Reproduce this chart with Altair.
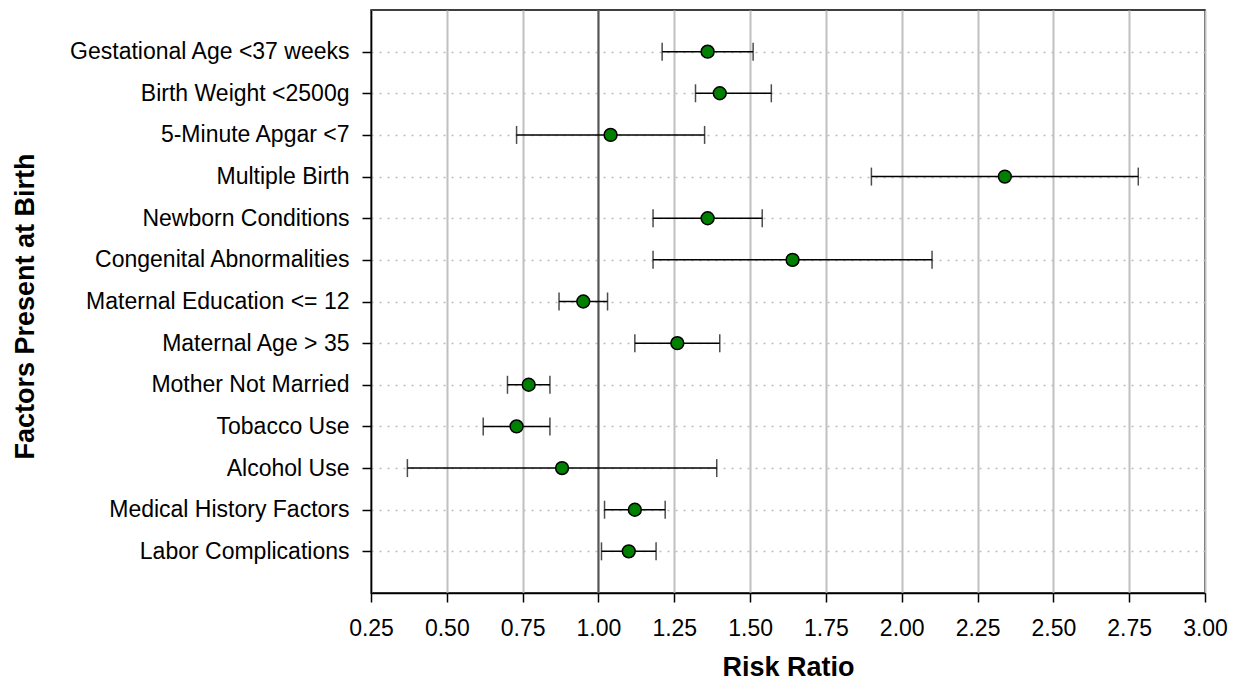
import altair as alt
import pandas as pd

factors = [
    "Gestational Age <37 weeks",
    "Birth Weight <2500g",
    "5-Minute Apgar <7",
    "Multiple Birth",
    "Newborn Conditions",
    "Congenital Abnormalities",
    "Maternal Education <= 12",
    "Maternal Age > 35",
    "Mother Not Married",
    "Tobacco Use",
    "Alcohol Use",
    "Medical History Factors",
    "Labor Complications",
]
risk_ratio = [1.36, 1.40, 1.04, 2.34, 1.36, 1.64, 0.95, 1.26, 0.77, 0.73, 0.88, 1.12, 1.10]
ci_low = [1.21, 1.32, 0.73, 1.90, 1.18, 1.18, 0.87, 1.12, 0.70, 0.62, 0.37, 1.02, 1.01]
ci_high = [1.51, 1.57, 1.35, 2.78, 1.54, 2.10, 1.03, 1.40, 0.84, 0.84, 1.39, 1.22, 1.19]
x_ticks = [0.25, 0.5, 0.75, 1.0, 1.25, 1.5, 1.75, 2.0, 2.25, 2.5, 2.75, 3.0]
ref_line = [1.0]

df = pd.DataFrame({"factor": factors, "rr": risk_ratio, "lo": ci_low, "hi": ci_high})
ref = pd.DataFrame({"x": ref_line})

FONT = "Liberation Sans"

xscale = alt.Scale(domain=[0.25, 3.0], nice=False, zero=False)
yscale = alt.Scale(type="point", domain=factors, padding=1)

xaxis = alt.Axis(
    values=x_ticks, format=".2f", title="Risk Ratio",
    grid=True, gridColor="#c0c0c0", gridWidth=2,
    domainColor="black", domainWidth=1.5, tickColor="black", tickWidth=1.5, tickSize=9,
    labelFont=FONT, labelFontSize=23, labelColor="black", labelPadding=15,
    labelFlush=False, labelOverlap=False,
    titleFont=FONT, titleFontSize=27, titleFontWeight="bold", titleColor="black",
    titleX=417, titleY=88, titleAlign="center", titleBaseline="bottom",
)
yaxis = alt.Axis(
    title="Factors Present at Birth",
    grid=True, gridColor="#bdbdbd", gridDash=[2, 6], gridWidth=1.5,
    domainColor="black", domainWidth=1.5, tickColor="black", tickWidth=1.5, tickSize=9,
    labelFont=FONT, labelFontSize=23, labelColor="black", labelPadding=13, labelLimit=0,
    titleFont=FONT, titleFontSize=27, titleFontWeight="bold", titleColor="black",
    titleX=-338, titleY=296, titleAngle=270, titleAlign="center", titleBaseline="alphabetic",
)

base = alt.Chart(df)

refrule = alt.Chart(ref).mark_rule(color="#555555", strokeWidth=2).encode(
    x=alt.X("x:Q", scale=xscale, axis=xaxis)
)

bars = base.mark_rule(color="black", strokeWidth=1.5).encode(
    x=alt.X("lo:Q", scale=xscale, axis=xaxis),
    x2="hi:Q",
    y=alt.Y("factor:N", scale=yscale, axis=yaxis, sort=factors),
)
cap_lo = base.mark_tick(color="black", thickness=1.5, size=18, orient="vertical").encode(
    x=alt.X("lo:Q", scale=xscale),
    y=alt.Y("factor:N", scale=yscale, sort=factors),
)
cap_hi = base.mark_tick(color="black", thickness=1.5, size=18, orient="vertical").encode(
    x=alt.X("hi:Q", scale=xscale),
    y=alt.Y("factor:N", scale=yscale, sort=factors),
)
points = base.mark_point(filled=True, fill="#008000", stroke="black", strokeWidth=1.5, size=165, opacity=1, shape="circle").encode(
    x=alt.X("rr:Q", scale=xscale),
    y=alt.Y("factor:N", scale=yscale, sort=factors),
)

chart = alt.layer(refrule, bars, cap_lo, cap_hi, points).properties(
    width=834, height=583,
    autosize=alt.AutoSizeParams(type="none"),
    padding={"left": 363, "top": 2, "right": 25, "bottom": 88},
).configure_view(stroke="black", strokeWidth=1.5)

chart.save("out.html", embed_options={"renderer": "svg", "actions": False})
